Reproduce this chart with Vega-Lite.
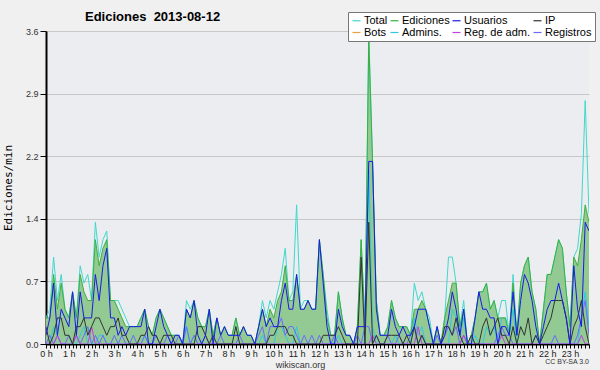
{
"$schema": "https://vega.github.io/schema/vega-lite/v6.json",
"width": 543, "height": 313,
"autosize": {"type": "none"},
"padding": {"left": 46, "top": 31, "right": 11, "bottom": 26},
"background": "#f0f0f0",
"config": {"view": {"fill": "#ecedf0", "stroke": null}, "font": "Liberation Sans"},
"title": {"text": "Ediciones\u00a0 2013-08-12", "anchor": "start", "frame": "group", "dx": 39, "dy": 12, "offset": 0, "fontSize": 13, "fontWeight": "bold", "font": "Liberation Sans", "color": "#000"},
"data": {"values": [
{"m":0,"T":0.3,"E":0.3,"U":0.1,"P":0.2,"A":0,"M":0,"R":0},
{"m":10,"T":0.4,"E":0.3,"U":0.3,"P":0,"A":0,"M":0,"R":0.1},
{"m":20,"T":1.0,"E":0.8,"U":0.7,"P":0.1,"A":0.2,"M":0,"R":0},
{"m":30,"T":0.5,"E":0.4,"U":0.1,"P":0.3,"A":0.1,"M":0.1,"R":0.1},
{"m":40,"T":0.8,"E":0.7,"U":0.4,"P":0.3,"A":0,"M":0,"R":0},
{"m":50,"T":0.4,"E":0.4,"U":0.3,"P":0.1,"A":0,"M":0,"R":0},
{"m":60,"T":0.3,"E":0.3,"U":0.2,"P":0.1,"A":0,"M":0,"R":0.1},
{"m":70,"T":0.6,"E":0.6,"U":0.6,"P":0,"A":0,"M":0,"R":0},
{"m":80,"T":0.3,"E":0.3,"U":0.1,"P":0.2,"A":0,"M":0.1,"R":0.1},
{"m":90,"T":0.9,"E":0.8,"U":0.6,"P":0.2,"A":0.1,"M":0,"R":0},
{"m":100,"T":0.7,"E":0.6,"U":0.3,"P":0.3,"A":0.2,"M":0,"R":0.1},
{"m":110,"T":0.8,"E":0.5,"U":0.3,"P":0.1,"A":0,"M":0,"R":0.2},
{"m":120,"T":0.5,"E":0.5,"U":0.3,"P":0.2,"A":0,"M":0.2,"R":0},
{"m":130,"T":1.4,"E":1.2,"U":0.8,"P":0.3,"A":0,"M":0,"R":0.1},
{"m":140,"T":1.0,"E":0.9,"U":0.5,"P":0.3,"A":0.1,"M":0,"R":0},
{"m":150,"T":1.2,"E":1.1,"U":0.9,"P":0.2,"A":0.1,"M":0,"R":0.1},
{"m":160,"T":1.3,"E":1.2,"U":1.1,"P":0.1,"A":0,"M":0,"R":0},
{"m":170,"T":0.5,"E":0.5,"U":0.3,"P":0.2,"A":0,"M":0,"R":0},
{"m":180,"T":0.5,"E":0.5,"U":0.3,"P":0.2,"A":0,"M":0,"R":0.1},
{"m":190,"T":0.5,"E":0.4,"U":0.1,"P":0.3,"A":0,"M":0,"R":0},
{"m":200,"T":0.4,"E":0.3,"U":0.2,"P":0.1,"A":0,"M":0,"R":0.1},
{"m":210,"T":0.3,"E":0.2,"U":0.1,"P":0.1,"A":0,"M":0,"R":0},
{"m":220,"T":0.2,"E":0.2,"U":0.2,"P":0,"A":0,"M":0,"R":0},
{"m":230,"T":0.2,"E":0.2,"U":0.2,"P":0,"A":0,"M":0,"R":0.1},
{"m":240,"T":0.2,"E":0.2,"U":0.2,"P":0,"A":0,"M":0,"R":0},
{"m":250,"T":0.3,"E":0.3,"U":0.2,"P":0.1,"A":0,"M":0,"R":0},
{"m":260,"T":0.4,"E":0.4,"U":0.4,"P":0.1,"A":0.1,"M":0,"R":0.1},
{"m":270,"T":0.2,"E":0.2,"U":0,"P":0.2,"A":0,"M":0,"R":0},
{"m":280,"T":0.1,"E":0.1,"U":0,"P":0.1,"A":0,"M":0,"R":0},
{"m":290,"T":0.3,"E":0.3,"U":0.2,"P":0.1,"A":0,"M":0,"R":0.1},
{"m":300,"T":0.4,"E":0.4,"U":0.4,"P":0,"A":0,"M":0,"R":0},
{"m":310,"T":0.3,"E":0.3,"U":0.2,"P":0.1,"A":0,"M":0,"R":0},
{"m":320,"T":0.2,"E":0.2,"U":0.1,"P":0.1,"A":0,"M":0,"R":0.1},
{"m":330,"T":0.1,"E":0.1,"U":0,"P":0.1,"A":0,"M":0,"R":0},
{"m":340,"T":0.1,"E":0.1,"U":0.1,"P":0,"A":0,"M":0,"R":0},
{"m":350,"T":0.1,"E":0.1,"U":0.1,"P":0,"A":0,"M":0,"R":0.1},
{"m":360,"T":0,"E":0,"U":0,"P":0,"A":0,"M":0,"R":0},
{"m":370,"T":0.5,"E":0.4,"U":0.4,"P":0,"A":0.2,"M":0,"R":0.2},
{"m":380,"T":0.4,"E":0.3,"U":0.3,"P":0,"A":0,"M":0,"R":0},
{"m":390,"T":0.5,"E":0.5,"U":0.5,"P":0,"A":0.1,"M":0,"R":0.1},
{"m":400,"T":0.3,"E":0.3,"U":0.1,"P":0.2,"A":0,"M":0,"R":0},
{"m":410,"T":0.2,"E":0.2,"U":0,"P":0.2,"A":0,"M":0,"R":0},
{"m":420,"T":0.2,"E":0.2,"U":0.1,"P":0.1,"A":0,"M":0,"R":0.1},
{"m":430,"T":0.4,"E":0.4,"U":0.4,"P":0,"A":0,"M":0,"R":0},
{"m":440,"T":0.1,"E":0.1,"U":0,"P":0.1,"A":0,"M":0,"R":0},
{"m":450,"T":0.3,"E":0.3,"U":0.3,"P":0,"A":0,"M":0,"R":0},
{"m":460,"T":0.1,"E":0.1,"U":0.1,"P":0,"A":0,"M":0,"R":0.1},
{"m":470,"T":0.2,"E":0.2,"U":0.2,"P":0,"A":0,"M":0,"R":0},
{"m":480,"T":0.1,"E":0.1,"U":0.1,"P":0,"A":0,"M":0,"R":0},
{"m":490,"T":0.1,"E":0.1,"U":0.1,"P":0,"A":0,"M":0,"R":0},
{"m":500,"T":0.3,"E":0.3,"U":0.1,"P":0.2,"A":0,"M":0,"R":0},
{"m":510,"T":0.1,"E":0.1,"U":0.1,"P":0,"A":0,"M":0,"R":0.1},
{"m":520,"T":0.2,"E":0.2,"U":0.2,"P":0,"A":0,"M":0,"R":0},
{"m":530,"T":0.1,"E":0.1,"U":0.1,"P":0,"A":0,"M":0,"R":0},
{"m":540,"T":0.1,"E":0.1,"U":0.1,"P":0,"A":0,"M":0,"R":0},
{"m":550,"T":0,"E":0,"U":0,"P":0,"A":0,"M":0,"R":0},
{"m":560,"T":0.2,"E":0.2,"U":0.2,"P":0,"A":0,"M":0,"R":0.1},
{"m":570,"T":0.5,"E":0.4,"U":0.4,"P":0,"A":0.1,"M":0,"R":0.2},
{"m":580,"T":0.3,"E":0.2,"U":0.2,"P":0,"A":0,"M":0,"R":0},
{"m":590,"T":0.5,"E":0.4,"U":0.3,"P":0.1,"A":0,"M":0,"R":0.2},
{"m":600,"T":0.4,"E":0.3,"U":0.2,"P":0.1,"A":0,"M":0,"R":0.2},
{"m":610,"T":0.6,"E":0.5,"U":0.2,"P":0.2,"A":0.2,"M":0,"R":0.2},
{"m":620,"T":0.8,"E":0.6,"U":0.5,"P":0.2,"A":0.2,"M":0,"R":0.3},
{"m":630,"T":1.1,"E":0.9,"U":0.7,"P":0.2,"A":0.1,"M":0,"R":0.1},
{"m":640,"T":0.5,"E":0.5,"U":0.4,"P":0.1,"A":0,"M":0,"R":0.2},
{"m":650,"T":0.6,"E":0.5,"U":0.4,"P":0.1,"A":0,"M":0,"R":0.2},
{"m":660,"T":1.6,"E":0.8,"U":0.8,"P":0,"A":0.2,"M":0,"R":0.1},
{"m":670,"T":0.4,"E":0.4,"U":0.4,"P":0,"A":0,"M":0,"R":0},
{"m":680,"T":0.5,"E":0.4,"U":0.4,"P":0,"A":0,"M":0,"R":0.1},
{"m":690,"T":0.5,"E":0.5,"U":0.5,"P":0,"A":0,"M":0,"R":0},
{"m":700,"T":0.4,"E":0.4,"U":0.4,"P":0,"A":0,"M":0,"R":0.1},
{"m":710,"T":0.4,"E":0.4,"U":0.4,"P":0,"A":0,"M":0,"R":0},
{"m":720,"T":1.2,"E":1.2,"U":1.2,"P":0,"A":0,"M":0,"R":0.1},
{"m":730,"T":0.8,"E":0.8,"U":0.7,"P":0.1,"A":0,"M":0,"R":0},
{"m":740,"T":0.4,"E":0.3,"U":0.2,"P":0.1,"A":0,"M":0,"R":0},
{"m":750,"T":0.1,"E":0.1,"U":0,"P":0.1,"A":0,"M":0,"R":0},
{"m":760,"T":0.1,"E":0.1,"U":0,"P":0.1,"A":0,"M":0,"R":0.1},
{"m":770,"T":0.6,"E":0.6,"U":0.4,"P":0.2,"A":0.1,"M":0,"R":0},
{"m":780,"T":0.3,"E":0.3,"U":0.2,"P":0.1,"A":0,"M":0,"R":0},
{"m":790,"T":0.1,"E":0.1,"U":0.1,"P":0,"A":0,"M":0,"R":0},
{"m":800,"T":0.1,"E":0.1,"U":0.1,"P":0,"A":0,"M":0,"R":0},
{"m":810,"T":0,"E":0,"U":0,"P":0,"A":0,"M":0,"R":0},
{"m":820,"T":0.2,"E":0.2,"U":0.2,"P":0,"A":0,"M":0,"R":0.1},
{"m":830,"T":1.2,"E":1.2,"U":0.2,"P":1.0,"A":0,"M":0,"R":0},
{"m":840,"T":0.2,"E":0.2,"U":0.2,"P":0,"A":0,"M":0,"R":0.2},
{"m":850,"T":3.6,"E":3.5,"U":2.1,"P":1.4,"A":2.0,"M":0,"R":0.2},
{"m":860,"T":2.1,"E":2.1,"U":2.1,"P":0,"A":0.2,"M":0.1,"R":0},
{"m":870,"T":0.5,"E":0.5,"U":0.4,"P":0.1,"A":0,"M":0,"R":0.1},
{"m":880,"T":0.1,"E":0.1,"U":0.1,"P":0,"A":0,"M":0,"R":0},
{"m":890,"T":0.1,"E":0.1,"U":0.1,"P":0,"A":0,"M":0,"R":0},
{"m":900,"T":0.2,"E":0.2,"U":0.1,"P":0.1,"A":0,"M":0,"R":0.1},
{"m":910,"T":0.5,"E":0.5,"U":0.4,"P":0.1,"A":0,"M":0,"R":0},
{"m":920,"T":0.3,"E":0.3,"U":0.2,"P":0.1,"A":0.1,"M":0,"R":0},
{"m":930,"T":0.2,"E":0.2,"U":0.1,"P":0.1,"A":0,"M":0,"R":0.1},
{"m":940,"T":0.2,"E":0.2,"U":0.2,"P":0,"A":0,"M":0,"R":0},
{"m":950,"T":0.2,"E":0.2,"U":0.1,"P":0.1,"A":0,"M":0,"R":0},
{"m":960,"T":0.1,"E":0.1,"U":0.1,"P":0,"A":0,"M":0,"R":0.1},
{"m":970,"T":0.7,"E":0.4,"U":0.2,"P":0.2,"A":0.3,"M":0,"R":0.2},
{"m":980,"T":0.5,"E":0.4,"U":0.4,"P":0,"A":0.1,"M":0.2,"R":0},
{"m":990,"T":0.6,"E":0.5,"U":0.4,"P":0.1,"A":0.2,"M":0,"R":0.1},
{"m":1000,"T":0.4,"E":0.4,"U":0.4,"P":0,"A":0,"M":0,"R":0},
{"m":1010,"T":0.3,"E":0.2,"U":0.2,"P":0,"A":0,"M":0,"R":0},
{"m":1020,"T":0,"E":0,"U":0,"P":0,"A":0,"M":0,"R":0},
{"m":1030,"T":0.2,"E":0.2,"U":0.2,"P":0,"A":0,"M":0,"R":0.1},
{"m":1040,"T":0,"E":0,"U":0,"P":0,"A":0,"M":0,"R":0},
{"m":1050,"T":0.3,"E":0.3,"U":0.1,"P":0.2,"A":0,"M":0,"R":0.1},
{"m":1060,"T":1.0,"E":0.5,"U":0.3,"P":0.2,"A":0,"M":0,"R":0.2},
{"m":1070,"T":1.0,"E":0.7,"U":0.6,"P":0.1,"A":0.4,"M":0,"R":0.1},
{"m":1080,"T":0.7,"E":0.7,"U":0.4,"P":0.3,"A":0.3,"M":0,"R":0.2},
{"m":1090,"T":0.2,"E":0.2,"U":0.1,"P":0.1,"A":0.1,"M":0,"R":0},
{"m":1100,"T":0.5,"E":0.4,"U":0.4,"P":0,"A":0.3,"M":0.1,"R":0.1},
{"m":1110,"T":0,"E":0,"U":0,"P":0,"A":0,"M":0,"R":0},
{"m":1120,"T":0.1,"E":0.1,"U":0,"P":0.1,"A":0,"M":0,"R":0},
{"m":1130,"T":0.3,"E":0.3,"U":0.3,"P":0,"A":0.1,"M":0,"R":0},
{"m":1140,"T":0.6,"E":0.6,"U":0.6,"P":0,"A":0,"M":0,"R":0},
{"m":1150,"T":0.6,"E":0.6,"U":0.4,"P":0.2,"A":0,"M":0,"R":0},
{"m":1160,"T":0.7,"E":0.7,"U":0.4,"P":0.3,"A":0.2,"M":0,"R":0},
{"m":1170,"T":0.4,"E":0.4,"U":0.3,"P":0.1,"A":0.1,"M":0,"R":0},
{"m":1180,"T":0.5,"E":0.5,"U":0.3,"P":0.2,"A":0.2,"M":0,"R":0},
{"m":1190,"T":0.3,"E":0.3,"U":0,"P":0.3,"A":0,"M":0,"R":0.1},
{"m":1200,"T":0.5,"E":0.3,"U":0.2,"P":0.1,"A":0.3,"M":0.1,"R":0.2},
{"m":1210,"T":0.5,"E":0.3,"U":0.2,"P":0.1,"A":0.3,"M":0,"R":0.1},
{"m":1220,"T":0.1,"E":0.1,"U":0.1,"P":0,"A":0.1,"M":0,"R":0.1},
{"m":1230,"T":0.8,"E":0.7,"U":0.6,"P":0.2,"A":0.4,"M":0,"R":0},
{"m":1240,"T":0.1,"E":0.1,"U":0.1,"P":0,"A":0,"M":0,"R":0},
{"m":1250,"T":0.7,"E":0.7,"U":0.5,"P":0.2,"A":0,"M":0,"R":0},
{"m":1260,"T":0.9,"E":0.9,"U":0.8,"P":0.1,"A":0,"M":0,"R":0},
{"m":1270,"T":1.0,"E":1.0,"U":0.7,"P":0.3,"A":0,"M":0,"R":0},
{"m":1280,"T":0.6,"E":0.6,"U":0.5,"P":0,"A":0,"M":0,"R":0},
{"m":1290,"T":0.4,"E":0.4,"U":0.2,"P":0.1,"A":0.1,"M":0,"R":0.1},
{"m":1300,"T":0,"E":0,"U":0,"P":0,"A":0,"M":0,"R":0},
{"m":1310,"T":0.4,"E":0.4,"U":0.2,"P":0.1,"A":0,"M":0,"R":0},
{"m":1320,"T":0.8,"E":0.8,"U":0.4,"P":0.2,"A":0,"M":0,"R":0},
{"m":1330,"T":0.8,"E":0.8,"U":0.5,"P":0.3,"A":0,"M":0,"R":0},
{"m":1340,"T":1.0,"E":1.0,"U":0.5,"P":0.5,"A":0,"M":0,"R":0.1},
{"m":1350,"T":1.2,"E":1.2,"U":0.7,"P":0.5,"A":0,"M":0,"R":0},
{"m":1360,"T":1.1,"E":1.1,"U":0.5,"P":0.5,"A":0,"M":0,"R":0},
{"m":1370,"T":0.6,"E":0.6,"U":0.3,"P":0.3,"A":0,"M":0,"R":0},
{"m":1380,"T":0.2,"E":0.2,"U":0,"P":0,"A":0,"M":0,"R":0},
{"m":1390,"T":1.0,"E":1.0,"U":0.9,"P":0.2,"A":0,"M":0,"R":0},
{"m":1400,"T":1.1,"E":0.9,"U":0.4,"P":0.3,"A":0,"M":0,"R":0.1},
{"m":1410,"T":1.5,"E":1.2,"U":0.2,"P":0.5,"A":0.3,"M":0.1,"R":0.3},
{"m":1420,"T":2.8,"E":1.6,"U":1.4,"P":0.2,"A":0.6,"M":0,"R":0.5},
{"m":1430,"T":1.5,"E":1.4,"U":1.3,"P":0,"A":0.2,"M":0,"R":0.1}
]},
"layer": [
{
"mark": {"type": "area", "color": "#93c993", "clip": true},
"encoding": {
"x": {"field": "m", "type": "quantitative",
"scale": {"domain": [0, 1430], "nice": false, "zero": false},
"axis": {"title": "wikiscan.org", "titleFont": "Liberation Sans", "titleFontSize": 9, "titleFontWeight": "normal", "titleColor": "#333", "titleX": 254, "titlePadding": 2,
"tickCount": 144, "labelExpr": "datum.value % 60 == 0 ? (datum.value / 60) + ' h' : ''", "labelOverlap": false, "labelFlush": false, "labelBound": false,
"labelFont": "Liberation Sans", "labelFontSize": 9, "labelColor": "#222", "labelPadding": 1, "tickSize": 4, "tickColor": "#000", "domainColor": "#000", "domainWidth": 2, "grid": false}},
"y": {"field": "E", "type": "quantitative",
"scale": {"domain": [0, 3.6], "nice": false},
"axis": {"title": "Ediciones/min", "titleFont": "DejaVu Sans Mono", "titleFontSize": 11, "titleFontWeight": "normal", "titleColor": "#000", "titlePadding": 12,
"values": [0,0.18,0.36,0.54,0.72,0.9,1.08,1.26,1.44,1.62,1.8,1.98,2.16,2.34,2.52,2.7,2.88,3.06,3.24,3.42,3.6],
"labelExpr": "abs(datum.value / 0.72 - round(datum.value / 0.72)) < 0.01 ? format(datum.value, '.1f') : ''",
"labelFont": "Liberation Sans", "labelFontSize": 9, "labelColor": "#333", "labelPadding": 2,
"tickColor": "#000", "tickSize": {"condition": {"test": "abs(datum.value / 0.72 - round(datum.value / 0.72)) < 0.01", "value": 6}, "value": 3},
"domainColor": "#000", "domainWidth": 2,
"grid": true, "gridColor": "#c8c8c8", "gridOpacity": {"condition": {"test": "abs(datum.value / 0.72 - round(datum.value / 0.72)) < 0.01", "value": 1}, "value": 0}}}
}
},
{
"transform": [{"fold": ["T", "A", "E", "R", "M", "P", "U"], "as": ["s", "v"]}],
"mark": {"type": "line", "strokeWidth": 1, "clip": true},
"encoding": {
"x": {"field": "m", "type": "quantitative"},
"y": {"field": "v", "type": "quantitative"},
"color": {"field": "s", "type": "nominal",
"scale": {"domain": ["T", "E", "U", "P", "B", "A", "M", "R"], "range": ["#40d8cc", "#3cb03c", "#1a1ae6", "#333333", "#f0a040", "#30c8e0", "#c040e0", "#6a6aff"]},
"legend": {"title": null, "orient": "none", "legendX": 302, "legendY": -19, "direction": "horizontal", "columns": 4,
"fillColor": "#ffffff", "strokeColor": "#777777", "padding": 3, "rowPadding": 0, "columnPadding": 0,
"symbolType": "stroke", "symbolSize": 64, "symbolStrokeWidth": 1.2, "labelFont": "Liberation Sans", "labelFontSize": 11, "labelColor": "#000", "labelOffset": 2,
"labelExpr": "datum.label == 'T' ? 'Total' : datum.label == 'E' ? 'Ediciones' : datum.label == 'U' ? 'Usuarios' : datum.label == 'P' ? 'IP' : datum.label == 'B' ? 'Bots' : datum.label == 'A' ? 'Admins.' : datum.label == 'M' ? 'Reg. de adm.' : 'Registros'"}}
}
},
{
"data": {"values": [{"note": "CC BY-SA 3.0"}]},
"mark": {"type": "text", "align": "right", "baseline": "middle", "dy": 18, "fontSize": 7, "color": "#333", "font": "Liberation Sans"},
"encoding": {
"x": {"datum": 1430, "type": "quantitative"},
"y": {"datum": 0, "type": "quantitative"},
"text": {"field": "note"}
}
}
]
}
